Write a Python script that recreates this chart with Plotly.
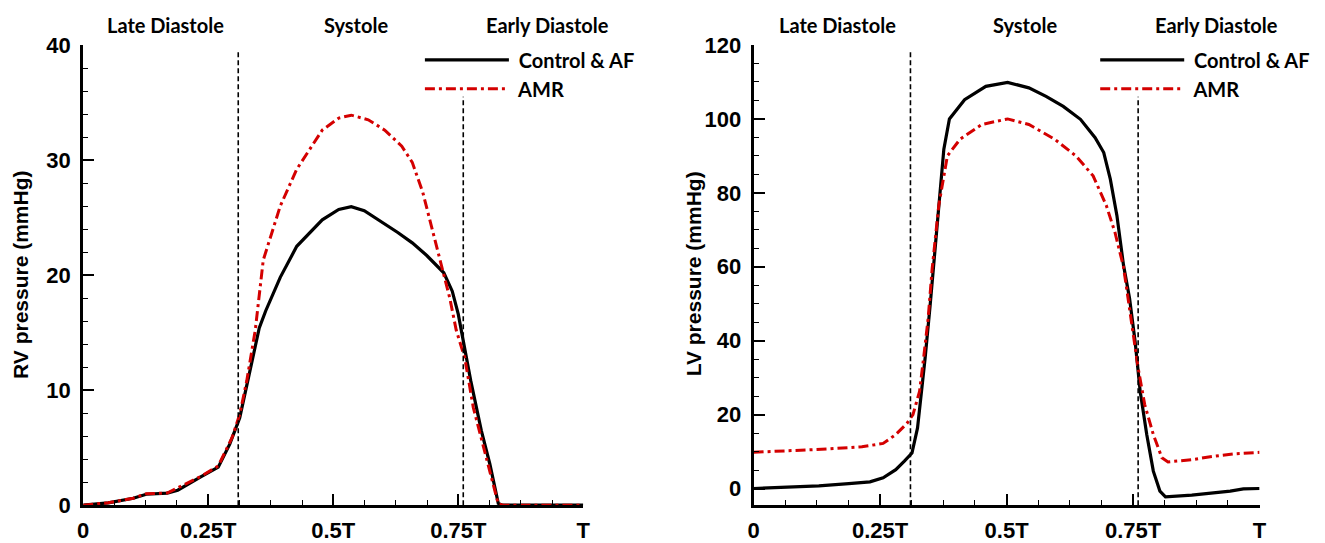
import plotly.graph_objects as go

# ---------------- data ----------------
tick_vals = [0, 0.25, 0.5, 0.75, 1.0]
tick_text = ["0", "0.25T", "0.5T", "0.75T", "T"]
phase_labels = ["Late Diastole", "Systole", "Early Diastole"]
series_names = ["Control & AF", "AMR"]
phase_bounds = [0.31, 0.76]

rv_ctrl_t = [0, 0.05, 0.1, 0.126, 0.168, 0.189, 0.235, 0.27, 0.293, 0.313, 0.335, 0.352, 0.365,
             0.394, 0.427, 0.478, 0.511, 0.536, 0.562, 0.595, 0.629, 0.658, 0.687, 0.721, 0.738,
             0.75, 0.763, 0.775, 0.796, 0.813, 0.83, 0.838, 1.0]
rv_ctrl_p = [0, 0.2, 0.6, 0.95, 1.05, 1.3, 2.45, 3.3, 5.3, 7.6, 12.0, 15.4, 16.9,
             19.8, 22.5, 24.8, 25.7, 25.95, 25.6, 24.7, 23.7, 22.8, 21.7, 20.2, 18.6,
             16.6, 13.7, 10.8, 6.5, 3.6, 0.15, 0, 0]

rv_amr_t = [0, 0.05, 0.1, 0.126, 0.168, 0.235, 0.27, 0.298, 0.313, 0.327, 0.344, 0.36, 0.394,
            0.427, 0.478, 0.511, 0.536, 0.57, 0.603, 0.637, 0.658, 0.679, 0.696, 0.713, 0.721,
            0.733, 0.746, 0.763, 0.78, 0.805, 0.821, 0.83, 0.84, 1.0]
rv_amr_p = [0, 0.2, 0.6, 1.0, 1.05, 2.5, 3.4, 5.9, 7.9, 10.8, 15.2, 21.3, 26.0,
            29.2, 32.6, 33.65, 33.9, 33.5, 32.6, 31.2, 29.8, 27.2, 24.3, 21.4, 20.1,
            18.0, 15.2, 12.8, 8.5, 4.2, 1.6, 0.1, 0, 0]

lv_ctrl_t = [0, 0.129, 0.188, 0.23, 0.256, 0.281, 0.298, 0.313, 0.324, 0.331, 0.339, 0.349,
             0.356, 0.366, 0.376, 0.387, 0.417, 0.459, 0.502, 0.544, 0.578, 0.612, 0.646,
             0.675, 0.692, 0.705, 0.718, 0.731, 0.743, 0.754, 0.764, 0.777, 0.79, 0.803,
             0.814, 0.866, 0.908, 0.942, 0.968, 1.0]
lv_ctrl_p = [0, 0.7, 1.3, 1.8, 2.9, 5.1, 7.4, 9.6, 16.4, 24.5, 35.3, 49.7,
             60.5, 76.6, 91.8, 100, 105.2, 108.8, 109.9, 108.4, 106.1, 103.4, 99.9,
             94.9, 90.9, 83.7, 73.9, 60.5, 51.5, 39.8, 26.3, 14.6, 4.7, -0.7,
             -2.25, -1.8, -1.2, -0.7, -0.1, 0]

lv_amr_t = [0, 0.061, 0.146, 0.214, 0.256, 0.281, 0.303, 0.315, 0.328, 0.336, 0.345, 0.353,
            0.366, 0.383, 0.408, 0.451, 0.502, 0.544, 0.595, 0.637, 0.671, 0.697, 0.714,
            0.731, 0.747, 0.76, 0.773, 0.79, 0.807, 0.819, 0.866, 0.908, 0.951, 1.0]
lv_amr_p = [9.8, 10.1, 10.7, 11.3, 12.2, 14.6, 17.6, 20, 26.3, 35.3, 46.1, 59.6,
            76.6, 90, 94.5, 98.5, 100, 98.5, 94.5, 90, 84.6, 76.6, 69.4,
            60, 45.2, 32.6, 22.7, 14.6, 8.3, 7.2, 7.8, 8.7, 9.4, 9.8]

# ---------------- figure ----------------
W, H = 1325, 543
BLACK = "#000000"
RED = "#d40000"
TICKFONT = dict(family="Liberation Sans, Arial", size=22, color="black", weight="bold")
LABFONT = dict(family="Lato, Open Sans", size=20, color="black", weight="bold")
LEGFONT = dict(family="Lato, Open Sans", size=20, color="black", weight="bold")

fig = go.Figure()

def add_pair(xa, ya, leg, ct, cp, at, ap):
    fig.add_trace(go.Scatter(x=ct, y=cp, mode="lines", name=" " + series_names[0],
                             line=dict(color=BLACK, width=3.2),
                             xaxis=xa, yaxis=ya, legend=leg))
    fig.add_trace(go.Scatter(x=at, y=ap, mode="lines", name=" " + series_names[1],
                             line=dict(color=RED, width=3, dash="10px,4px,3px,4px"),
                             xaxis=xa, yaxis=ya, legend=leg))

add_pair("x", "y", "legend", rv_ctrl_t, rv_ctrl_p, rv_amr_t, rv_amr_p)
add_pair("x2", "y2", "legend2", lv_ctrl_t, lv_ctrl_p, lv_amr_t, lv_amr_p)

ydom = [(H - 523) / H, (H - 35) / H]

def xaxis_def(dom, anchor):
    return dict(domain=dom, range=[0, 1], anchor=anchor, showline=True, linewidth=3,
                linecolor="black", showgrid=False, zeroline=False,
                ticks="inside", ticklen=11, tickwidth=2, tickcolor="black",
                tickvals=tick_vals, ticktext=tick_text, tickfont=TICKFONT,
                ticklabelstandoff=3,
                minor=dict(dtick=0.0625, tick0=0, ticks="inside", ticklen=5,
                           tickwidth=1.2, tickcolor="black", showgrid=False))

def yaxis_def(rng, dt, mdt, anchor):
    return dict(domain=ydom, range=rng, anchor=anchor, showline=True, linewidth=3,
                linecolor="black", showgrid=False, zeroline=False,
                ticks="inside", ticklen=11, tickwidth=2, tickcolor="black",
                tick0=0, dtick=dt, tickfont=TICKFONT, ticklabelstandoff=5,
                minor=dict(dtick=mdt, tick0=0, ticks="inside", ticklen=5,
                           tickwidth=1.2, tickcolor="black", showgrid=False))

fig.update_layout(
    width=W, height=H,
    margin=dict(l=0, r=0, t=0, b=0),
    paper_bgcolor="white", plot_bgcolor="white",
    xaxis=xaxis_def([78 / W, 583 / W], "y"),
    yaxis=yaxis_def([0, 40], 10, 2, "x"),
    xaxis2=xaxis_def([755 / W, 1266 / W], "y2"),
    yaxis2=yaxis_def([-4.5, 120], 20, 5, "x2"),
    legend=dict(x=418 / W, y=(H - 30) / H, xanchor="left", yanchor="top",
                bgcolor="rgba(0,0,0,0)", itemwidth=84, font=LEGFONT),
    legend2=dict(x=1100 / W, y=(H - 30) / H, xanchor="left", yanchor="top",
                 bgcolor="rgba(0,0,0,0)", itemwidth=84, font=LEGFONT),
    showlegend=True,
)

# phase boundary dashed lines
tops_left = [39.6, 35.5]
tops_right = [118.7, 106]
for b, top in zip(phase_bounds, tops_left):
    fig.add_shape(type="line", xref="x", yref="y", x0=b, x1=b, y0=0, y1=top,
                  line=dict(color="black", width=1.6, dash="5px,3px"))
for b, top in zip(phase_bounds, tops_right):
    fig.add_shape(type="line", xref="x2", yref="y2", x0=b, x1=b, y0=-4.5, y1=top,
                  line=dict(color="black", width=1.6, dash="5px,3px"))

# phase labels
left_lab_x = [161, 353, 547]
right_lab_x = [840, 1029, 1222]
for xs in (left_lab_x, right_lab_x):
    for px, lab in zip(xs, phase_labels):
        fig.add_annotation(x=px / W, y=(H - 14) / H, xref="paper", yref="paper",
                           text=lab, showarrow=False, font=LABFONT,
                           xanchor="center", yanchor="middle")

# y-axis titles
AXT = dict(family="Liberation Sans, Arial", size=21, color="black", weight="bold")
fig.add_annotation(x=14 / W, y=(H - 278) / H, xref="paper", yref="paper",
                   text="RV pressure (mmHg)", textangle=-90, showarrow=False, font=AXT,
                   xanchor="center", yanchor="middle")
fig.add_annotation(x=694 / W, y=(H - 278) / H, xref="paper", yref="paper",
                   text="LV pressure (mmHg)", textangle=-90, showarrow=False, font=AXT,
                   xanchor="center", yanchor="middle")

fig.write_html("out.html")
